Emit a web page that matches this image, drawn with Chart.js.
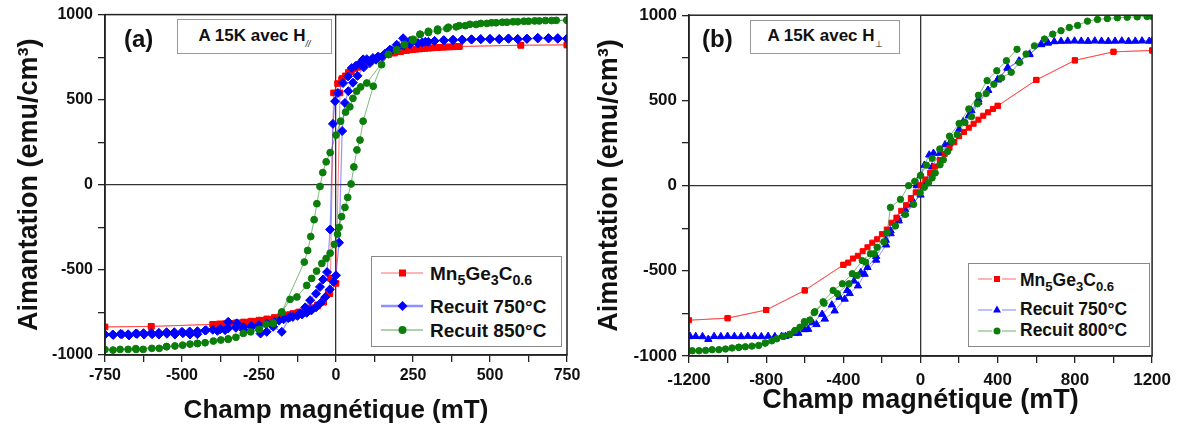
<!DOCTYPE html>
<html>
<head>
<meta charset="utf-8">
<script src="https://cdn.jsdelivr.net/npm/chart.js@4.4.0/dist/chart.umd.min.js"></script>
<style>
    body { margin: 0; background: #fff; font-family: "Liberation Sans", Arial, sans-serif; }
    #wrap { position: relative; width: 1178px; height: 427px; overflow: hidden; }
    .panel { position: absolute; top: 0; height: 427px; }
    .tag { position: absolute; font-weight: bold; font-size: 24px; line-height: 1; color: #111; }
    .note { position: absolute; box-sizing: border-box; border: 1px solid #999; font-weight: bold; font-size: 17px; line-height: 1; text-align: center; color: #111; background: #fff; }
    .note sub { font-size: 9px; vertical-align: -6px; line-height: 0; font-weight: normal; }
    .legend { position: absolute; box-sizing: border-box; border: 1px solid #888; background: #fff; }
    .key { position: absolute; }
    .lab { position: absolute; font-weight: bold; line-height: 1; color: #111; white-space: nowrap; }
    .lab sub { font-size: 0.75em; vertical-align: -0.38em; line-height: 0; }
</style>
</head>
<body>
<div id="wrap">
    <div class="panel" style="left:0;width:590px"><canvas id="chartA" width="590" height="427"></canvas></div>
    <div class="panel" style="left:590px;width:588px"><canvas id="chartB" width="588" height="427"></canvas></div>

    <div class="tag" style="left:124px;top:27px">(a)</div>
    <div class="note" style="left:177px;top:19px;width:155px;height:35px;padding-top:7px">A 15K avec H<sub><i>//</i></sub></div>
    <div class="tag" style="left:702px;top:27px">(b)</div>
    <div class="note" style="left:750px;top:20px;width:150px;height:34px;padding-top:6px">A 15K avec H<sub>&#8869;</sub></div>

    <!-- legend (a) -->
    <div class="legend" style="left:371px;top:256px;width:191px;height:91px"></div>
    <svg class="key" style="left:380px;top:263px" width="46" height="20">
        <line x1="1" y1="10" x2="43" y2="10" stroke="#ff6a6a" stroke-width="1"/>
        <rect x="19" y="6.5" width="7" height="7" fill="#ff0000"/>
    </svg>
    <div class="lab" style="left:430px;top:264px;font-size:19px">Mn<sub>5</sub>Ge<sub>3</sub>C<sub>0.6</sub></div>
    <svg class="key" style="left:380px;top:296px" width="46" height="20">
        <line x1="1" y1="10" x2="43" y2="10" stroke="#9090ff" stroke-width="2.5"/>
        <polygon points="22.5,5 27.5,10 22.5,15 17.5,10" fill="#0000ff"/>
    </svg>
    <div class="lab" style="left:430px;top:297px;font-size:19px">Recuit 750°C</div>
    <svg class="key" style="left:380px;top:320px" width="46" height="20">
        <line x1="1" y1="10" x2="43" y2="10" stroke="#5aa55a" stroke-width="1"/>
        <circle cx="22.5" cy="10" r="4" fill="#0a7d0a"/>
    </svg>
    <div class="lab" style="left:430px;top:321px;font-size:19px">Recuit 850°C</div>

    <!-- legend (b) -->
    <div class="legend" style="left:968px;top:263px;width:182px;height:84px"></div>
    <svg class="key" style="left:976px;top:269px" width="42" height="20">
        <line x1="2" y1="10" x2="16" y2="10" stroke="#ff6a6a" stroke-width="1"/>
        <line x1="26" y1="10" x2="40" y2="10" stroke="#ff6a6a" stroke-width="1"/>
        <rect x="18" y="7" width="6" height="6" fill="#ff0000"/>
    </svg>
    <div class="lab" style="left:1020px;top:272px;font-size:17.5px">Mn<sub>5</sub>Ge<sub>3</sub>C<sub>0.6</sub></div>
    <svg class="key" style="left:976px;top:300px" width="42" height="20">
        <line x1="2" y1="10" x2="16" y2="10" stroke="#8080ff" stroke-width="1"/>
        <line x1="26" y1="10" x2="40" y2="10" stroke="#8080ff" stroke-width="1"/>
        <polygon points="21,5.5 25,12.5 17,12.5" fill="#0000ff"/>
    </svg>
    <div class="lab" style="left:1020px;top:301px;font-size:17.5px">Recuit 750°C</div>
    <svg class="key" style="left:976px;top:321px" width="42" height="20">
        <line x1="2" y1="10" x2="16" y2="10" stroke="#6ab06a" stroke-width="1"/>
        <line x1="26" y1="10" x2="40" y2="10" stroke="#6ab06a" stroke-width="1"/>
        <circle cx="21" cy="10" r="3.5" fill="#0a7d0a"/>
    </svg>
    <div class="lab" style="left:1020px;top:322px;font-size:17.5px">Recuit 800°C</div>
</div>

<script>
// ---- panel (a): H parallel, 15 K ----
// each loop: descending branch then ascending branch (mT, emu/cm3)
const fieldA_Mn = [750,600,400,380,360,340,320,300,280,260,240,220,200,180,160,140,120,100,80,60,40,20,5,-8,-18,-25,-40,-60,-80,-100,-125,-150,-175,-200,-225,-250,-275,-300,-325,-350,-375,-400,-600,-750,
    -600,-400,-380,-360,-340,-320,-300,-280,-260,-240,-220,-200,-180,-160,-140,-120,-100,-80,-60,-40,-20,0,13,18,30,50,70,90,110,130,150,170,190,210,230,250,270,290,310,330,350,370,390,400,600,750]
const magA_Mn = [822,820,812,811,810,808,806,803,800,797,793,788,782,775,765,752,738,722,703,683,660,625,595,540,-550,-632,-690,-712,-728,-740,-752,-763,-772,-780,-788,-795,-801,-806,-811,-815,-818,-820,-832,-835,
    -832,-820,-818,-816,-814,-811,-808,-805,-802,-797,-790,-783,-773,-765,-756,-747,-735,-722,-705,-680,-640,-579,540,618,640,665,690,708,725,740,752,764,774,782,789,794,798,801,804,806,808,810,812,813,820,822]

const fieldA_750 = [750,720,690,655,620,590,560,530,500,470,440,410,380,350,320,300,280,266,240,220,200,180,160,137,120,100,88,78,65,51,39,23,6,-3,-10,-19,-29,-42,-52,-65,-84,-100,-117,-149,-176,-204,-225,-245,-274,-300,-322,-350,-360,-385,-422,-450,-474,-497,-523,-549,-575,-597,-623,-646,-672,-695,-723,-750,
    -725,-700,-675,-650,-625,-600,-575,-550,-525,-500,-475,-450,-425,-400,-375,-350,-325,-300,-275,-250,-225,-200,-185,-170,-155,-140,-125,-110,-95,-80,-65,-50,-35,-20,-8,0,10,20,29,40,55,70,90,110,130,150,175,197,218,240,266,290,320,350,380,410,440,470,500,530,560,590,620,655,690,720,750]
const magA_750 = [858,862,860,864,858,856,860,855,857,856,855,853,852,850,845,840,836,832,826,818,805,790,772,754,745,738,737,715,700,686,637,598,540,491,358,-263,-513,-556,-600,-640,-678,-720,-755,-776,-864,-834,-864,-874,-834,-854,-814,-805,-854,-858,-854,-878,-880,-872,-880,-875,-880,-878,-880,-876,-885,-878,-882,-880,
    -880,-876,-878,-874,-872,-870,-870,-866,-866,-864,-862,-860,-856,-852,-848,-844,-840,-836,-830,-824,-815,-805,-798,-790,-783,-776,-770,-762,-752,-738,-720,-695,-660,-615,-570,-532,-340,316,481,550,600,640,690,715,735,752,794,823,861,845,832,840,845,848,850,852,853,855,856,857,858,856,858,860,862,858,860]

const fieldA_850 = [750,715,680,645,610,575,540,505,470,435,400,365,330,300,273,250,222,197,170,100,80,67,55,45,31,15,0,-19,-32,-43,-52,-62,-71,-82,-92,-103,-176,-204,-250,-350,-450,-550,-650,-750,
    -724,-701,-675,-649,-626,-598,-574,-550,-523,-498,-474,-450,-425,-398,-374,-350,-325,-301,-277,-249,-227,-204,-176,-149,-127,-95,-79,-63,-46,-32,-19,-5,5,10,18,29,38,49,58,68,78,88,121,148,170,197,222,250,273,300,330,360,390,420,455,490,520,555,590,625,660,700,750]
const magA_850 = [967,966,965,963,961,958,955,952,948,943,935,926,915,902,885,855,825,793,766,598,575,550,508,458,427,374,292,189,135,72,-10,-111,-205,-304,-386,-454,-747,-812,-850,-905,-932,-951,-963,-968,
    -971,-967,-967,-967,-967,-961,-961,-951,-947,-942,-936,-932,-928,-918,-912,-908,-896,-873,-864,-850,-819,-815,-750,-673,-659,-591,-550,-507,-462,-433,-402,-350,-290,-250,-187,-133,-74,5,105,205,263,374,579,706,766,793,822,848,883,895,905,918,928,935,942,948,952,955,958,961,963,965,967]

// ---- panel (b): H perpendicular, 15 K ----
const fieldB_Mn = [1200,1000,800,600,400,350,300,250,200,150,100,50,0,-50,-100,-150,-200,-250,-300,-350,-400,-600,-800,-1000,-1200,
    -1000,-800,-600,-400,-375,-325,-275,-225,-175,-125,-75,-25,25,75,125,175,225,275,325,375,400,600,800,1000,1200]
const magB_Mn = [793,785,735,620,468,430,387,340,290,222,150,75,2,-73,-148,-218,-285,-335,-385,-428,-465,-615,-730,-778,-790,
    -778,-730,-615,-465,-452,-412,-362,-315,-258,-188,-115,-40,36,112,186,255,315,363,410,450,468,620,735,785,793]

const fieldB_750 = [1200,660,625,565,510,450,400,350,300,264,221,160,127,67,45,20,0,-20,-45,-80,-115,-155,-180,-230,-275,-310,-345,-380,-420,-460,-510,-560,-600,-650,-685,-720,-755,-790,-825,-860,-895,-930,-965,-1000,-1035,-1070,-1100,-1130,-1165,-1195,
    -1200,-700,-633,-582,-539,-496,-445,-393,-367,-324,-290,-230,-178,-155,-113,-80,-45,0,30,60,100,150,200,250,300,350,400,453,513,564,624,659,693,728,763,798,833,868,903,938,973,1008,1043,1078,1113,1148,1185]
const magB_750 = [849,838,828,772,732,690,620,560,505,440,375,265,240,190,180,120,60,0,-80,-140,-195,-265,-320,-415,-480,-510,-560,-615,-655,-700,-755,-805,-845,-866,-878,-884,-886,-884,-886,-885,-884,-886,-885,-884,-886,-885,-902,-886,-885,-884,
    -886,-884,-866,-843,-815,-783,-735,-666,-633,-588,-520,-437,-348,-282,-207,-165,-112,-55,20,110,190,245,330,410,490,560,623,690,730,769,828,837,845,847,848,849,848,847,849,848,847,848,849,847,848,849,848]

const fieldB_800 = [500,445,395,345,300,250,200,150,100,60,30,0,-30,-62,-104,-156,-173,-225,-260,-302,-354,-405,-453,-505,-548,-574,-600,-625,-651,-677,-711,-745,-771,-805,-839,-874,-908,-942,-977,-1011,-1045,-1080,-1114,-1148,-1183,
    -942,-805,-711,-651,-602,-551,-500,-431,-371,-328,-285,-240,-190,-130,-79,-36,-2,20,41,60,76,101,118,140,161,190,230,264,295,340,380,420,470,513,547,590,642,685,728,771,814,865,917,968,1020,1071,1123,1174,1200]
const magB_800 = [800,733,674,616,530,450,365,290,215,160,120,60,25,0,-81,-128,-275,-362,-400,-440,-517,-576,-615,-682,-740,-789,-808,-831,-851,-872,-885,-899,-911,-924,-938,-942,-946,-949,-953,-959,-963,-963,-967,-969,-969,
    -949,-924,-885,-851,-798,-745,-690,-634,-576,-527,-449,-400,-330,-237,-169,-110,-42,-10,16,45,74,122,151,200,260,300,370,405,480,540,595,632,665,723,772,820,860,889,909,928,940,965,975,980,985,988,990,992,993]

const FONT = '"Liberation Sans", Arial, sans-serif'
Chart.defaults.font.family = FONT
Chart.defaults.color = '#111'

function toPoints(xs, ys) {
    return xs.map((x, i) => ({ x: x, y: ys[i] }))
}

// closed box round the plot area
const framePlugin = {
    id: 'frame',
    afterDatasetsDraw(chart) {
        const ctx = chart.ctx
        const a = chart.chartArea
        ctx.save()
        ctx.strokeStyle = '#222'
        ctx.lineWidth = 1.5
        ctx.strokeRect(a.left, a.top, a.right - a.left, a.bottom - a.top)
        ctx.restore()
    }
}

// only the zero line is drawn inside the plot
const zeroLine = c => (c.tick && c.tick.value === 0) ? '#333' : 'rgba(0,0,0,0)'

function makeOptions(o) {
    return {
        responsive: false,
        animation: false,
        devicePixelRatio: 1,
        layout: { padding: { top: o.top, right: o.right, left: 0, bottom: 0 } },
        plugins: { legend: { display: false }, tooltip: { enabled: false } },
        scales: {
            x: {
                type: 'linear', min: o.xMin, max: o.xMax,
                afterFit: s => { s.height = o.xHeight },
                border: { display: true, color: '#222', width: 1.5 },
                grid: { color: zeroLine, lineWidth: 1.3, tickColor: '#222', tickLength: 7 },
                ticks: {
                    stepSize: o.xStep, autoSkip: false, maxRotation: 0, padding: o.xTickPad, color: '#111',
                    font: { size: o.tickSize, weight: 'bold' },
                    callback: v => v % o.xLabelStep === 0 ? String(v) : ''
                },
                title: {
                    display: true, text: 'Champ magnétique (mT)', color: '#111',
                    font: { size: o.xTitleSize, weight: 'bold' },
                    padding: { top: 0, bottom: o.xTitlePad }
                }
            },
            y: {
                type: 'linear', min: -1000, max: 1000,
                afterFit: s => { s.width = o.yWidth },
                border: { display: true, color: '#222', width: 1.5 },
                grid: { color: zeroLine, lineWidth: 1.3, tickColor: '#222', tickLength: 7 },
                ticks: {
                    stepSize: 250, autoSkip: false, padding: 5, color: '#111',
                    font: { size: o.tickSize, weight: 'bold' },
                    callback: v => v % 500 === 0 ? String(v) : ''
                },
                title: {
                    display: true, text: 'Aimantation (emu/cm³)', color: '#111',
                    font: { size: 27, weight: 'bold' },
                    padding: { top: o.yTitlePad, bottom: 0 }
                }
            }
        }
    }
}

new Chart(document.getElementById('chartA'), {
    type: 'scatter',
    data: {
        datasets: [{
            label: 'Mn5Ge3C0.6',
            data: toPoints(fieldA_Mn, magA_Mn),
            showLine: true, borderColor: 'rgba(255,40,40,0.6)', borderWidth: 1,
            pointStyle: 'rect', pointRadius: 4, pointBackgroundColor: '#ff0000', pointBorderColor: '#ff0000', pointBorderWidth: 1,
            order: 3
        }, {
            label: 'Recuit 750°C',
            data: toPoints(fieldA_750, magA_750),
            showLine: true, borderColor: 'rgba(60,60,255,0.55)', borderWidth: 1.2,
            pointStyle: 'rectRot', pointRadius: 4.5, pointBackgroundColor: '#0000ff', pointBorderColor: '#0000ff', pointBorderWidth: 1,
            order: 2
        }, {
            label: 'Recuit 850°C',
            data: toPoints(fieldA_850, magA_850),
            showLine: true, borderColor: 'rgba(20,130,20,0.55)', borderWidth: 1,
            pointStyle: 'circle', pointRadius: 3.4, pointBackgroundColor: '#0a7d0a', pointBorderColor: '#0a7d0a', pointBorderWidth: 1,
            order: 1
        }]
    },
    options: makeOptions({
        top: 13, right: 23, xHeight: 72, yWidth: 105,
        xMin: -750, xMax: 750, xStep: 125, xLabelStep: 250,
        tickSize: 16, xTickPad: 4, xTitleSize: 26, xTitlePad: 1, yTitlePad: 13
    }),
    plugins: [framePlugin]
})

new Chart(document.getElementById('chartB'), {
    type: 'scatter',
    data: {
        datasets: [{
            label: 'Mn5Ge3C0.6',
            data: toPoints(fieldB_Mn, magB_Mn),
            showLine: true, borderColor: 'rgba(255,40,40,0.6)', borderWidth: 1,
            pointStyle: 'rect', pointRadius: 3.6, pointBackgroundColor: '#ff0000', pointBorderColor: '#ff0000', pointBorderWidth: 1,
            order: 2
        }, {
            label: 'Recuit 750°C',
            data: toPoints(fieldB_750, magB_750),
            showLine: true, borderColor: 'rgba(60,60,255,0.55)', borderWidth: 1,
            pointStyle: 'triangle', pointRadius: 4.2, pointBackgroundColor: '#0000ff', pointBorderColor: '#0000ff', pointBorderWidth: 1,
            order: 3
        }, {
            label: 'Recuit 800°C',
            data: toPoints(fieldB_800, magB_800),
            showLine: true, borderColor: 'rgba(20,130,20,0.55)', borderWidth: 1,
            pointStyle: 'circle', pointRadius: 3.2, pointBackgroundColor: '#0a7d0a', pointBorderColor: '#0a7d0a', pointBorderWidth: 1,
            order: 1
        }]
    },
    options: makeOptions({
        top: 14, right: 23, xHeight: 71, yWidth: 99,
        xMin: -1200, xMax: 1200, xStep: 200, xLabelStep: 400,
        tickSize: 17, xTickPad: 7, xTitleSize: 27, xTitlePad: 10, yTitlePad: 3
    }),
    plugins: [framePlugin]
})
</script>
</body>
</html>
